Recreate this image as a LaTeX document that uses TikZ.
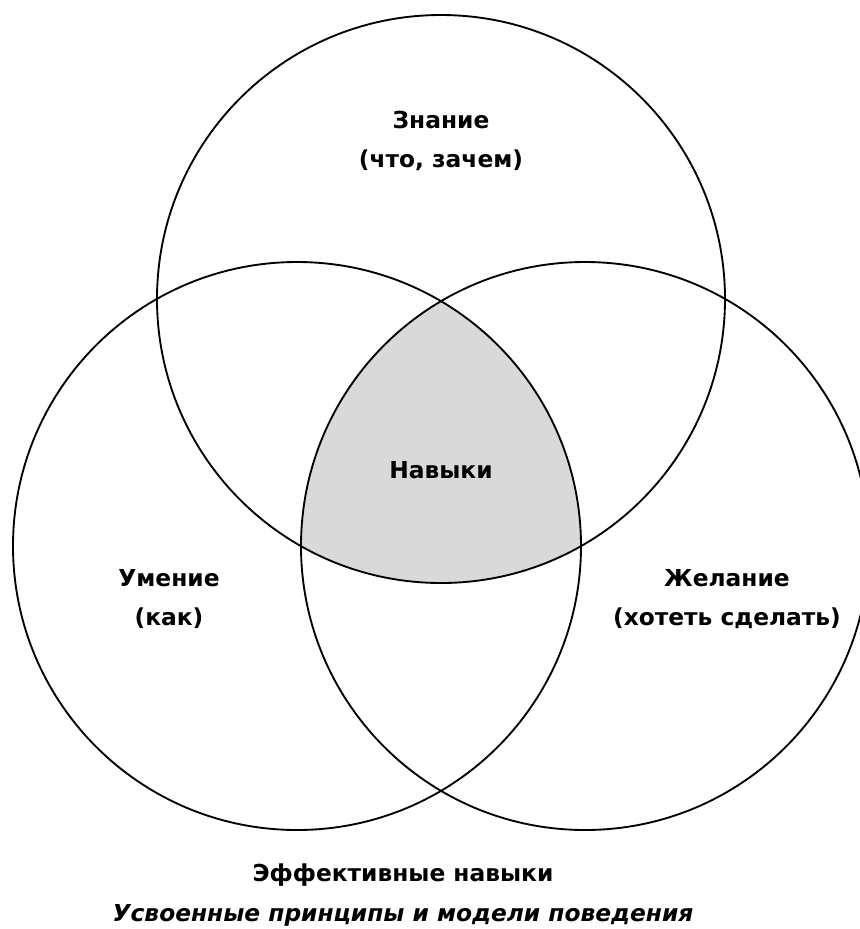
\documentclass[tikz,border=0pt]{standalone}
\usepackage{fontspec}
\setmainfont{DejaVu Sans}
\usepackage{tikz}
\usetikzlibrary{shapes.geometric, backgrounds}
\definecolor{core}{RGB}{217, 217, 217}
\tikzstyle{area} = [circle, minimum size=426pt, inner sep=0pt, draw=black, line width=1.4pt]
\tikzstyle{areatext} = [align=center, text centered, font=\bfseries\fontsize{17.5}{29}\selectfont]
\tikzstyle{footnote} = [align=center, text centered, font=\bfseries\fontsize{17.5}{30}\selectfont]

\begin{document}
\begin{tikzpicture}[x=0.75pt, y=-0.75pt]
		\useasboundingbox (0,0) rectangle (860,929);
		
		% Circles
		\node (znanie) [area] at (441,299) {};
		\node (umenie) [area] at (297,546) {};
		\node (zhelanie) [area] at (585,546) {};
		
		% Common part
		\begin{scope}[on background layer]
			\clip (znanie.center) circle (213pt);
			\clip (umenie.center) circle (213pt);
			\fill [core] (zhelanie.center) circle (213pt);
		\end{scope}
		
		% Texts
		\node (znanietext) [areatext] at (441,141) {Знание\\(что, зачем)};
		\node (umenietext) [areatext] at (169,599) {Умение\\(как)};
		\node (zhelanietext) [areatext] at (727,599) {Желание\\(хотеть сделать)};
		\node (navyki) [areatext] at (441,470) {Навыки};
		\node (summary) [footnote] at (403,895) {Эффективные навыки\\\itshape Усвоенные принципы и модели поведения};
		
	\end{tikzpicture}
\end{document}
